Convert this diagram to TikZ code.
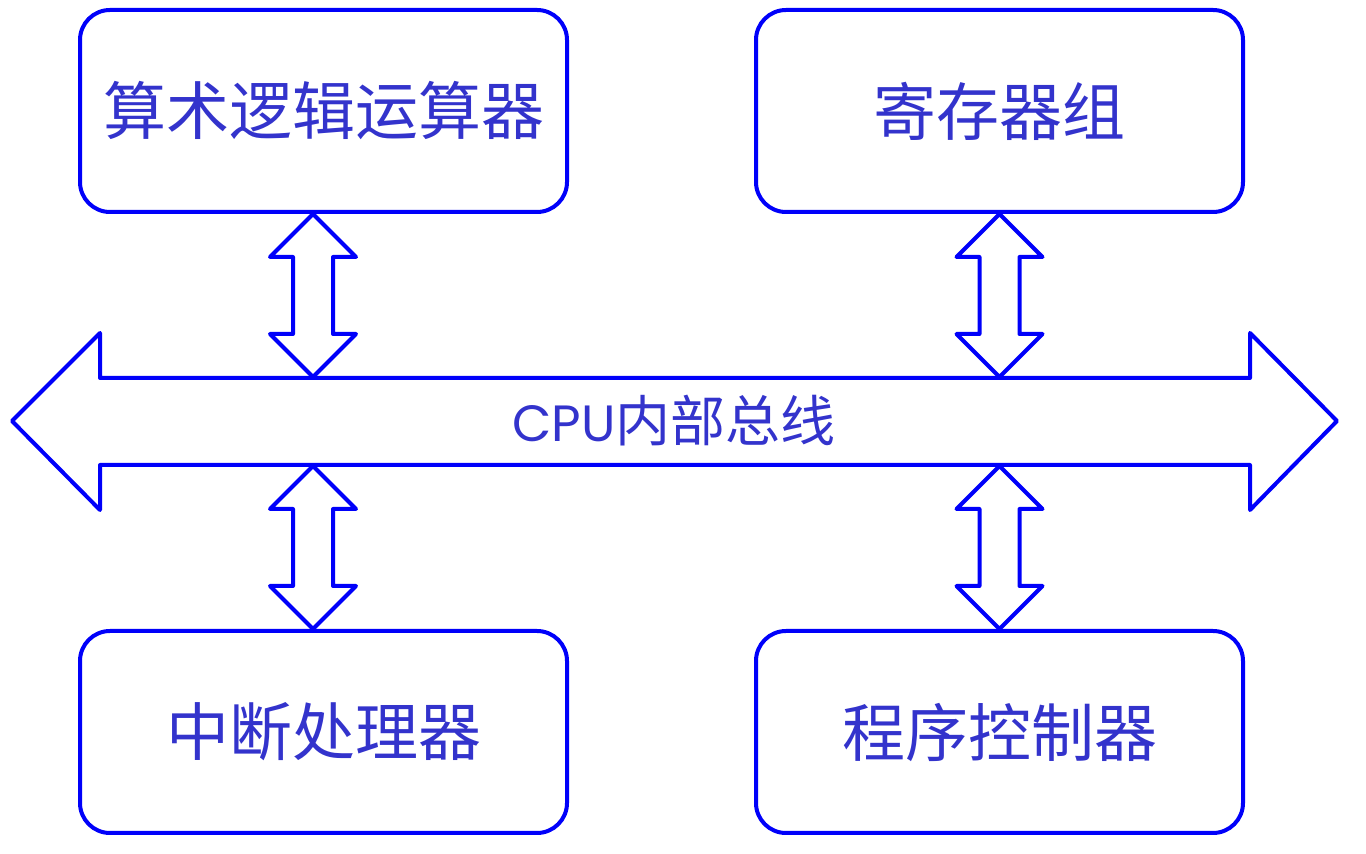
\documentclass[tikz,border=0pt]{standalone}
\usepackage{fontspec}
\setmainfont{Noto Sans CJK SC}
\newfontfamily\latinfont{Poppins}
\usetikzlibrary{positioning,calc}

\definecolor{lineblue}{RGB}{0,0,250}
\definecolor{textblue}{RGB}{51,51,204}

% vertical hollow double arrow: from point #1 (top tip) down to the height of #2
\newcommand{\dblarrow}[2]{%
  \draw[hollow] let \p1=(#1), \p2=(#2) in
    (\x1,\y1) -- (\x1+43,\y1-43) -- (\x1+20,\y1-43) -- (\x1+20,\y2+43)
    -- (\x1+43,\y2+43) -- (\x1,\y2) -- (\x1-43,\y2+43) -- (\x1-20,\y2+43)
    -- (\x1-20,\y1-43) -- (\x1-43,\y1-43) -- cycle;}

\begin{document}
\begin{tikzpicture}[x=1pt, y=1pt]
  \tikzset{
    unit/.style={draw=lineblue, line width=4pt, rounded corners=30pt,
      minimum width=487pt, minimum height=202pt, inner sep=0pt,
      text=textblue, font=\fontsize{63}{63}\selectfont},
    hollow/.style={draw=lineblue, line width=4pt, line join=round}
  }
  \useasboundingbox (0,0) rectangle (1366,854);

  % functional units
  \node[unit] (alu)  at (323.5,743) {算术逻辑运算器};
  \node[unit] (reg)  at (999.5,743) {寄存器组};
  \node[unit] (intr) at (323.5,122) {中断处理器};
  \node[unit] (ctrl) at (999.5,122) {程序控制器};

  % internal bus
  \coordinate (busN) at (668,477);
  \coordinate (busS) at (668,388);
  \draw[hollow] (12,433) -- (100,521) -- (100,476) -- (1250,476) -- (1250,521)
    -- (1337,433) -- (1250,344) -- (1250,389) -- (100,389) -- (100,344) -- cycle;
  \node[text=textblue, font=\fontsize{55}{55}\selectfont] (bus) at (674,433)
    {{\latinfont\fontsize{51}{51}\selectfont CPU}内部总线};

  % links to the bus
  \dblarrow{$(alu.south)+(-10.5,0)$}{busN}
  \dblarrow{reg.south}{busN}
  \dblarrow{$(busS -| intr.north)+(-10.5,0)$}{$(intr.north)$}
  \dblarrow{busS -| ctrl.north}{$(ctrl.north)$}
\end{tikzpicture}
\end{document}
